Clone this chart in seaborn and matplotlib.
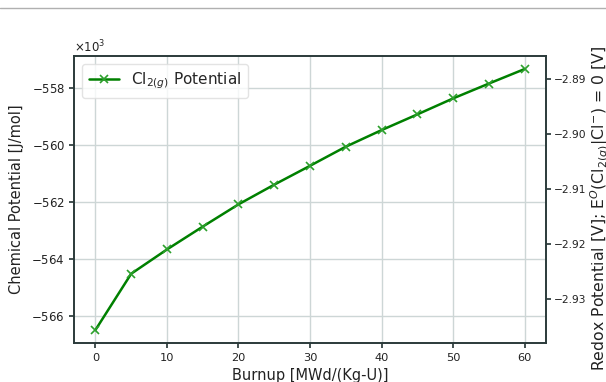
import matplotlib
matplotlib.use("Agg")
import matplotlib.pyplot as plt
import numpy as np
import pandas as pd
import seaborn as sns
from matplotlib.lines import Line2D

# Burnup steps [MWd/(kg-U)]
burnup = [0, 5, 10, 15, 20, 25, 30, 35, 40, 45, 50, 55, 60]
# Chemical potential of Cl2(g) [J/mol]
chem_potential = [-566490, -564520, -563670, -562870, -562090, -561400, -560740,
                  -560070, -559490, -558940, -558380, -557860, -557350]
series_label = r"Cl$_{2(g)}$ Potential"

FARADAY = 96485.0
N_ELECTRONS = 2

sns.set_theme(style="whitegrid", rc={
    "axes.edgecolor": "#2b3a3a",
    "axes.linewidth": 1.2,
    "grid.color": "#cdd6d6",
    "grid.linewidth": 1.0,
    "xtick.bottom": True,
    "ytick.left": True,
    "xtick.major.size": 3.5,
    "ytick.major.size": 3.5,
    "xtick.color": "#2b3a3a",
    "ytick.color": "#2b3a3a",
    "xtick.labelcolor": "#222222",
    "ytick.labelcolor": "#222222",
    "axes.labelcolor": "#222222",
})
plt.rcParams["font.family"] = ["DejaVu Sans"]

df = pd.DataFrame({"burnup": burnup, "mu": chem_potential})

fig = plt.figure(figsize=(6.06, 3.82), dpi=100)
ax = fig.add_axes([74 / 606, 1 - 343 / 382, 472 / 606, 287 / 382])

sns.lineplot(data=df, x="burnup", y="mu", ax=ax, color="green", marker="x",
             markersize=6, markeredgewidth=1.2, linewidth=1.8,
             markeredgecolor="#2ca02c", label=series_label)

ax.set_xlabel("Burnup [MWd/(Kg-U)]", fontsize=10.5, labelpad=3)
ax.set_ylabel("Chemical Potential [J/mol]", fontsize=10.5, labelpad=5)
ax.tick_params(axis="x", labelsize=8.2, pad=4)
ax.tick_params(axis="y", labelsize=8.5, pad=3)
ax.set_xticks([0, 10, 20, 30, 40, 50, 60])
ax.ticklabel_format(axis="y", style="sci", scilimits=(3, 3), useOffset=False,
                    useMathText=True)
ax.yaxis.get_offset_text().set_fontsize(8.5)
ax.margins(x=0.05, y=0.05)

leg = ax.legend(loc="upper left", fontsize=11, frameon=True, framealpha=0.8,
                edgecolor="#dddddd", handlelength=2.0, borderpad=0.45)

# Redox potential axis: E = mu / (n F)
ax2 = ax.twinx()
lo, hi = ax.get_ylim()
ax2.set_ylim(lo / (N_ELECTRONS * FARADAY), hi / (N_ELECTRONS * FARADAY))
ax2.grid(False)
ax2.set_yticks([-2.93, -2.92, -2.91, -2.90, -2.89])
ax2.set_yticklabels(["\u22122.93", "\u22122.92", "\u22122.91", "\u22122.90", "\u22122.89"])
ax2.tick_params(axis="y", right=True, labelsize=7.7, pad=2, length=3.5)
ax2.set_ylabel(r"Redox Potential [V]; E$^{O}$(Cl$_{2(g)}$|Cl$^{-}$) = 0 [V]",
               fontsize=11.3)
ax2.yaxis.set_label_coords((589 - 74) / 472, 0.468)
for s in ax2.spines.values():
    s.set_color("#2b3a3a")
    s.set_linewidth(1.2)

# thin rule along the top of the page
fig.add_artist(Line2D([0, 1], [1 - 8 / 382, 1 - 8 / 382], transform=fig.transFigure,
                      color="#b0b0b0", linewidth=1.0))

fig.savefig("out.png", dpi=100)
